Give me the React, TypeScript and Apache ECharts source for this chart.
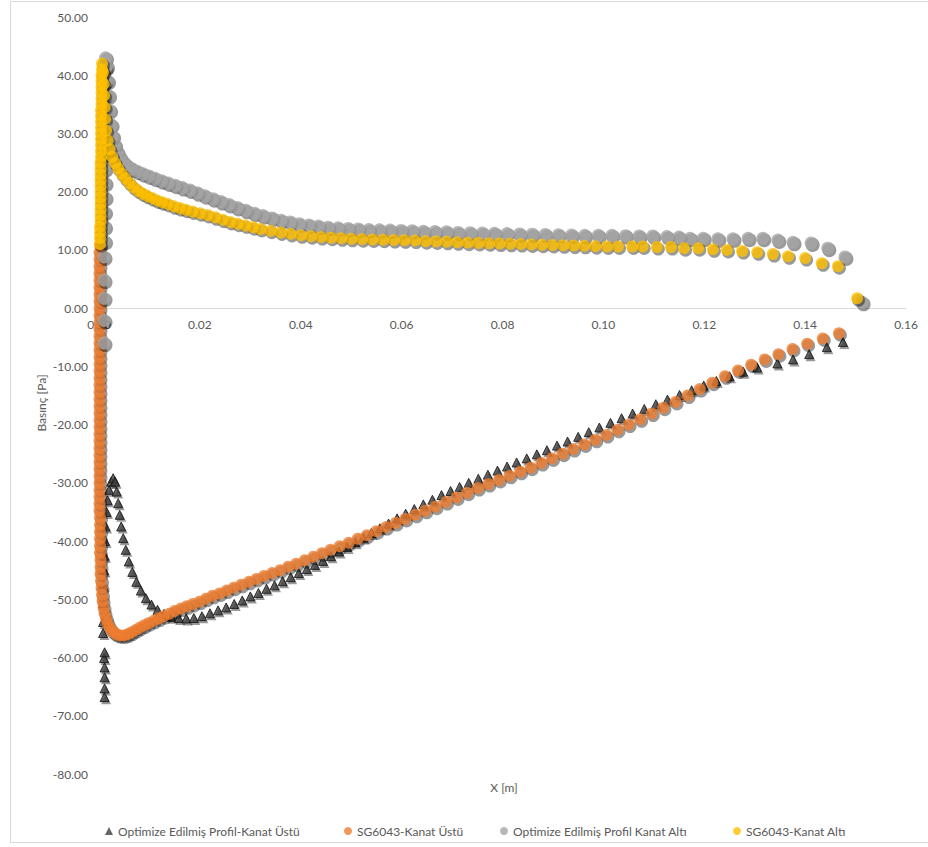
import React, { useEffect, useRef } from "react";
import * as echarts from "echarts";

// Pressure distribution along the chord, [x (m), pressure (Pa)]
const optUpper: [number, number][] = [
  [0.0011, -66.8], [0.0011, -65.3], [0.0011, -63.4], [0.0011, -61.7], [0.0010, -60.1], [0.0011, -59.1],
  [0.0008, -55.8], [0.0008, -53.9], [0.0008, -50.7], [0.0008, -47.6],
  [0.0010, -45.0], [0.0011, -42.5], [0.0012, -40.0], [0.0013, -37.5], [0.0015, -35.0], [0.0017, -33.0],
  [0.0020, -31.2], [0.0024, -29.8], [0.0028, -29.2], [0.0032, -29.8], [0.0035, -31.5], [0.0038, -33.5],
  [0.0041, -35.5], [0.0044, -37.5], [0.0048, -39.5], [0.0053, -41.5], [0.0059, -43.5], [0.0066, -45.3],
  [0.0074, -47.0], [0.0083, -48.5], [0.0093, -49.8], [0.0104, -50.9], [0.0116, -51.8], [0.0129, -52.5],
  [0.0143, -53.0], [0.0158, -53.2], [0.0173, -53.3], [0.0188, -53.2], [0.0204, -52.9], [0.0220, -52.4],
  [0.0236, -51.9], [0.0252, -51.4], [0.0268, -50.8], [0.0284, -50.2], [0.0300, -49.5], [0.0316, -48.9],
  [0.0332, -48.2], [0.0348, -47.6], [0.0364, -46.9], [0.0380, -46.2], [0.0396, -45.5], [0.0412, -44.8],
  [0.0428, -44.1], [0.0444, -43.4], [0.0460, -42.6], [0.0476, -41.8], [0.0492, -41.0], [0.0508, -40.2],
  [0.0524, -39.4], [0.0540, -38.6], [0.0557, -37.8], [0.0574, -37.0], [0.0591, -36.1], [0.0608, -35.3],
  [0.0625, -34.5], [0.0643, -33.7], [0.0661, -32.9], [0.0679, -32.1], [0.0697, -31.4], [0.0715, -30.7],
  [0.0733, -30.0], [0.0752, -29.3], [0.0771, -28.6], [0.0790, -27.9], [0.0809, -27.2], [0.0828, -26.5],
  [0.0848, -25.8], [0.0868, -25.1], [0.0888, -24.4], [0.0908, -23.6], [0.0929, -22.9], [0.0950, -22.1],
  [0.0971, -21.3], [0.0992, -20.5], [0.1014, -19.7], [0.1036, -18.9], [0.1058, -18.1], [0.1081, -17.3],
  [0.1104, -16.5], [0.1127, -15.7], [0.1151, -14.9], [0.1175, -14.1], [0.1199, -13.3], [0.1224, -12.5],
  [0.1250, -11.7], [0.1277, -10.9], [0.1305, -10.2], [0.1345, -9.5], [0.1376, -8.8], [0.1408, -7.9],
  [0.1443, -6.7], [0.1475, -5.8],
];

const sgUpper: [number, number][] = [
  [0.0002, 10.8], [0.0001, 9.6], [0.0001, 8.4], [0.0001, 7.2], [0.0001, 6.0], [0.0001, 4.8], [0.0001, 3.6],
  [0.0001, 2.4], [0.0001, 1.2], [0.0001, 0.0], [0.0001, -1.2], [0.0001, -2.4], [0.0001, -3.6], [0.0001, -4.8],
  [0.0001, -6.0], [0.0001, -7.2], [0.0001, -8.4], [0.0001, -9.6], [0.0001, -10.8], [0.0001, -12.0],
  [0.0001, -13.2], [0.0001, -14.4], [0.0001, -15.6], [0.0001, -16.8], [0.0001, -18.0], [0.0001, -19.2],
  [0.0001, -20.4], [0.0001, -21.6], [0.0001, -22.8], [0.0001, -24.0], [0.0001, -25.2], [0.0001, -26.4],
  [0.0001, -27.6], [0.0001, -28.8], [0.0001, -30.0], [0.0001, -31.2], [0.0001, -32.4], [0.0001, -33.6],
  [0.0001, -34.8], [0.0002, -36.0], [0.0002, -37.2], [0.0002, -38.4], [0.0002, -39.6], [0.0002, -40.8],
  [0.0002, -42.0], [0.0003, -43.2], [0.0003, -44.4], [0.0003, -45.6], [0.0004, -46.8], [0.0005, -48.0],
  [0.0006, -49.2], [0.0007, -50.3], [0.0009, -51.4], [0.0011, -52.4], [0.0014, -53.3], [0.0017, -54.1],
  [0.0021, -54.8], [0.0026, -55.4], [0.0031, -55.8], [0.0037, -56.1], [0.0043, -56.2], [0.0050, -56.2],
  [0.0057, -56.0], [0.0064, -55.7], [0.0072, -55.3], [0.0080, -54.9], [0.0089, -54.5], [0.0098, -54.1],
  [0.0108, -53.7], [0.0118, -53.3], [0.0128, -52.9], [0.0139, -52.5], [0.0150, -52.0], [0.0162, -51.6],
  [0.0174, -51.2], [0.0186, -50.8], [0.0199, -50.4], [0.0212, -49.9], [0.0225, -49.4], [0.0239, -49.0],
  [0.0253, -48.5], [0.0267, -48.0], [0.0282, -47.5], [0.0297, -47.0], [0.0312, -46.5], [0.0327, -46.0],
  [0.0343, -45.5], [0.0359, -45.0], [0.0375, -44.4], [0.0391, -43.9], [0.0408, -43.3], [0.0425, -42.7],
  [0.0442, -42.1], [0.0459, -41.5], [0.0477, -40.9], [0.0495, -40.3], [0.0513, -39.6], [0.0531, -39.0],
  [0.0550, -38.3], [0.0569, -37.6], [0.0588, -36.9], [0.0607, -36.2], [0.0627, -35.5], [0.0647, -34.8],
  [0.0667, -34.1], [0.0688, -33.3], [0.0709, -32.5], [0.0730, -31.7], [0.0751, -30.9], [0.0772, -30.2],
  [0.0793, -29.5], [0.0814, -28.8], [0.0835, -28.1], [0.0856, -27.4], [0.0877, -26.6], [0.0898, -25.8],
  [0.0919, -25.0], [0.0940, -24.2], [0.0962, -23.4], [0.0984, -22.6], [0.1006, -21.8], [0.1028, -20.9],
  [0.1050, -20.0], [0.1073, -19.1], [0.1096, -18.1], [0.1119, -17.1], [0.1143, -16.1], [0.1167, -15.0],
  [0.1191, -13.9], [0.1216, -12.8], [0.1241, -11.7], [0.1267, -10.7], [0.1293, -9.7], [0.1320, -8.8],
  [0.1347, -7.9], [0.1375, -7.0], [0.1404, -6.1], [0.1435, -5.2], [0.1467, -4.3],
];

const optLower: [number, number][] = [
  [0.0010, -6.0], [0.0010, -2.1], [0.0010, 1.7], [0.0010, 4.8], [0.0010, 8.8],
  [0.0011, 11.5], [0.0011, 14.0], [0.0011, 16.5], [0.0012, 19.0], [0.0012, 21.5], [0.0012, 24.0],
  [0.0012, 26.5], [0.0012, 29.0], [0.0012, 31.5], [0.0012, 34.0], [0.0012, 36.5], [0.0012, 39.0],
  [0.0012, 41.2], [0.0013, 43.0],
  [0.0015, 41.5], [0.0017, 39.0], [0.0019, 36.5], [0.0021, 34.0], [0.0024, 31.5], [0.0027, 29.5],
  [0.0031, 28.0], [0.0036, 26.8], [0.0042, 25.8], [0.0049, 25.0], [0.0057, 24.4], [0.0066, 23.9],
  [0.0076, 23.5], [0.0087, 23.1], [0.0099, 22.7], [0.0111, 22.3], [0.0124, 21.9], [0.0137, 21.5],
  [0.0151, 21.1], [0.0165, 20.7], [0.0180, 20.3], [0.0195, 19.8], [0.0210, 19.3], [0.0226, 18.8],
  [0.0242, 18.3], [0.0258, 17.8], [0.0274, 17.3], [0.0291, 16.8], [0.0308, 16.3], [0.0325, 15.9],
  [0.0343, 15.5], [0.0361, 15.1], [0.0379, 14.8], [0.0397, 14.5], [0.0416, 14.3], [0.0435, 14.1],
  [0.0454, 13.9], [0.0474, 13.8], [0.0494, 13.7], [0.0514, 13.6], [0.0535, 13.5], [0.0556, 13.45],
  [0.0577, 13.4], [0.0599, 13.35], [0.0621, 13.3], [0.0643, 13.2], [0.0666, 13.15], [0.0689, 13.1],
  [0.0712, 13.0], [0.0736, 12.95], [0.0760, 12.9], [0.0784, 12.85], [0.0809, 12.8], [0.0834, 12.75],
  [0.0859, 12.7], [0.0885, 12.65], [0.0911, 12.6], [0.0937, 12.55], [0.0963, 12.5], [0.0990, 12.5],
  [0.1017, 12.5], [0.1044, 12.45], [0.1071, 12.4], [0.1098, 12.4], [0.1126, 12.3], [0.1150, 12.2],
  [0.1172, 12.0], [0.1198, 12.0], [0.1227, 11.9], [0.1257, 11.9], [0.1287, 12.0], [0.1316, 12.0],
  [0.1346, 11.7], [0.1376, 11.3], [0.1412, 11.2], [0.1445, 10.3], [0.1479, 8.8], [0.1513, 1.0],
];

const sgLower: [number, number][] = [
  [0.0002, 11.0], [0.0002, 12.0], [0.0002, 13.0], [0.0002, 14.0], [0.0003, 15.0], [0.0003, 16.0],
  [0.0003, 17.0], [0.0003, 18.0], [0.0003, 19.0], [0.0003, 20.0], [0.0003, 21.0], [0.0003, 22.0],
  [0.0003, 23.0], [0.0003, 24.0], [0.0003, 25.0], [0.0004, 26.0], [0.0004, 27.0], [0.0004, 28.0],
  [0.0004, 29.0], [0.0004, 30.0], [0.0004, 31.0], [0.0004, 32.0], [0.0004, 33.0], [0.0004, 34.0],
  [0.0005, 35.0], [0.0005, 36.0], [0.0005, 37.0], [0.0005, 38.0], [0.0005, 39.0], [0.0005, 40.0],
  [0.0006, 41.0], [0.0006, 42.0],
  [0.0008, 40.5], [0.0009, 38.5], [0.0010, 36.5], [0.0011, 34.5], [0.0012, 32.5], [0.0014, 30.5],
  [0.0017, 28.8], [0.0021, 27.3], [0.0026, 26.0], [0.0032, 24.9], [0.0038, 24.0], [0.0045, 23.1],
  [0.0052, 22.3], [0.0060, 21.5], [0.0068, 20.8], [0.0077, 20.2], [0.0086, 19.7], [0.0095, 19.3],
  [0.0105, 18.9], [0.0115, 18.5], [0.0125, 18.2], [0.0136, 17.9], [0.0148, 17.5], [0.0160, 17.2],
  [0.0172, 16.9], [0.0185, 16.6], [0.0200, 16.3], [0.0215, 16.0], [0.0230, 15.6], [0.0245, 15.2],
  [0.0260, 14.8], [0.0275, 14.5], [0.0290, 14.2], [0.0305, 13.9], [0.0320, 13.6], [0.0340, 13.3],
  [0.0360, 13.0], [0.0380, 12.75], [0.0400, 12.5], [0.0420, 12.35], [0.0440, 12.2], [0.0460, 12.1],
  [0.0480, 12.0], [0.0500, 11.9], [0.0521, 11.85], [0.0542, 11.8], [0.0563, 11.75], [0.0584, 11.7],
  [0.0605, 11.65], [0.0626, 11.6], [0.0647, 11.5], [0.0668, 11.45], [0.0689, 11.4], [0.0710, 11.3],
  [0.0731, 11.25], [0.0752, 11.2], [0.0773, 11.15], [0.0794, 11.1], [0.0815, 11.05], [0.0836, 11.0],
  [0.0857, 10.95], [0.0878, 10.9], [0.0899, 10.85], [0.0920, 10.8], [0.0941, 10.75], [0.0962, 10.7],
  [0.0984, 10.65], [0.1007, 10.6], [0.1029, 10.6], [0.1057, 10.6], [0.1078, 10.6], [0.1106, 10.5],
  [0.1134, 10.5], [0.1160, 10.3], [0.1188, 10.3], [0.1217, 10.1], [0.1245, 10.0], [0.1275, 9.8],
  [0.1305, 9.6], [0.1336, 9.3], [0.1366, 8.9], [0.1400, 8.6], [0.1433, 7.7], [0.1465, 7.2], [0.1503, 1.7],
];

const seriesNames = [
  "Optimize Edilmiş Profil-Kanat Üstü",
  "SG6043-Kanat Üstü",
  "Optimize Edilmiş Profil Kanat Altı",
  "SG6043-Kanat Altı",
];
const seriesColors = ["#3f3f3f", "#ED7D31", "#A5A5A5", "#FFC000"];
const legendLeft = [100, 339, 495, 728];

const xTicks = { min: 0, max: 0.16, step: 0.02 };
const yTicks = { min: -80, max: 50, step: 10 };

const FONT = "Lato, 'Open Sans', sans-serif";
const TEXT = "#595959";

const GRID = { left: 99, top: 17, right: 22, bottom: 73 };
const PLOT_H = 847 - GRID.top - GRID.bottom;

export default function App() {
  const ref = useRef<HTMLDivElement>(null);

  useEffect(() => {
    if (!ref.current) return;
    const chart = echarts.init(ref.current, undefined, { renderer: "svg" });
    const datasets = [optUpper, sgUpper, optLower, sgLower];
    const symbols = ["triangle", "circle", "circle", "circle"];
    const sizes = [9, 12, 13, 12];

    // horizontal axis crosses the vertical one at zero pressure
    const zeroFromBottom = (PLOT_H * (0 - yTicks.min)) / (yTicks.max - yTicks.min);

    // each marker series gets a dark, slightly offset copy underneath as its drop shadow
    const series: any[] = [];
    datasets.forEach((data, i) => {
      series.push({
        name: `${seriesNames[i]} (gölge)`,
        type: "scatter",
        data,
        symbol: symbols[i],
        symbolSize: sizes[i] + 1,
        symbolOffset: [1.5, 2],
        silent: true,
        itemStyle: { color: "rgba(0,0,0,0.5)" },
        emphasis: { disabled: true },
        z: 2 + i * 2,
      });
      series.push({
        name: seriesNames[i],
        type: "scatter",
        data,
        symbol: symbols[i],
        symbolSize: sizes[i],
        silent: true,
        itemStyle:
          i === 0
            ? { color: seriesColors[i], borderColor: "#111111", borderWidth: 1 }
            : { color: seriesColors[i] },
        emphasis: { disabled: true },
        z: 3 + i * 2,
      });
    });

    chart.setOption({
      animation: false,
      backgroundColor: "#ffffff",
      grid: {
        ...GRID,
        containLabel: false,
        outerBoundsMode: "none",
      },
      xAxis: {
        type: "value",
        min: xTicks.min,
        max: xTicks.max,
        interval: xTicks.step,
        position: "bottom",
        offset: -zeroFromBottom,
        axisLine: { onZero: false, lineStyle: { color: "#d9d9d9", width: 1 } },
        axisTick: { show: false },
        splitLine: { show: false },
        axisLabel: {
          color: TEXT,
          fontFamily: FONT,
          fontSize: 12,
          margin: 10,
          formatter: (v: number) => v.toFixed(2),
        },
      },
      yAxis: {
        type: "value",
        min: yTicks.min,
        max: yTicks.max,
        interval: yTicks.step,
        axisLine: { show: false },
        axisTick: { show: false },
        splitLine: { show: false },
        axisLabel: {
          color: TEXT,
          fontFamily: FONT,
          fontSize: 12,
          margin: 11,
          formatter: (v: number) => v.toFixed(2),
        },
      },
      legend: seriesNames.map((name, i) => ({
        left: legendLeft[i],
        top: 820,
        itemWidth: 8,
        itemHeight: 8,
        icon: symbols[i],
        data: [{ name }],
        itemStyle: { borderWidth: 0 },
        textStyle: { color: TEXT, fontFamily: FONT, fontSize: 12 },
        selectedMode: false,
      })),
      graphic: [
        {
          type: "rect",
          shape: { x: 10.5, y: 1.5, width: 940, height: 841 },
          style: { fill: "none", stroke: "#d9d9d9", lineWidth: 1 },
          silent: true,
          z: -10,
        },
        {
          type: "text",
          x: 41,
          y: 403,
          rotation: Math.PI / 2,
          style: {
            text: "Basınç [Pa]",
            fill: TEXT,
            font: `12px ${FONT}`,
            align: "center",
            verticalAlign: "middle",
          },
        },
        {
          type: "text",
          x: 504,
          y: 787,
          style: {
            text: "X [m]",
            fill: TEXT,
            font: `12px ${FONT}`,
            align: "center",
            verticalAlign: "middle",
          },
        },
      ],
      series,
    });

    return () => chart.dispose();
  }, []);

  return (
    <div
      ref={ref}
      style={{ position: "absolute", left: 0, top: 0, width: 928, height: 847 }}
    />
  );
}
